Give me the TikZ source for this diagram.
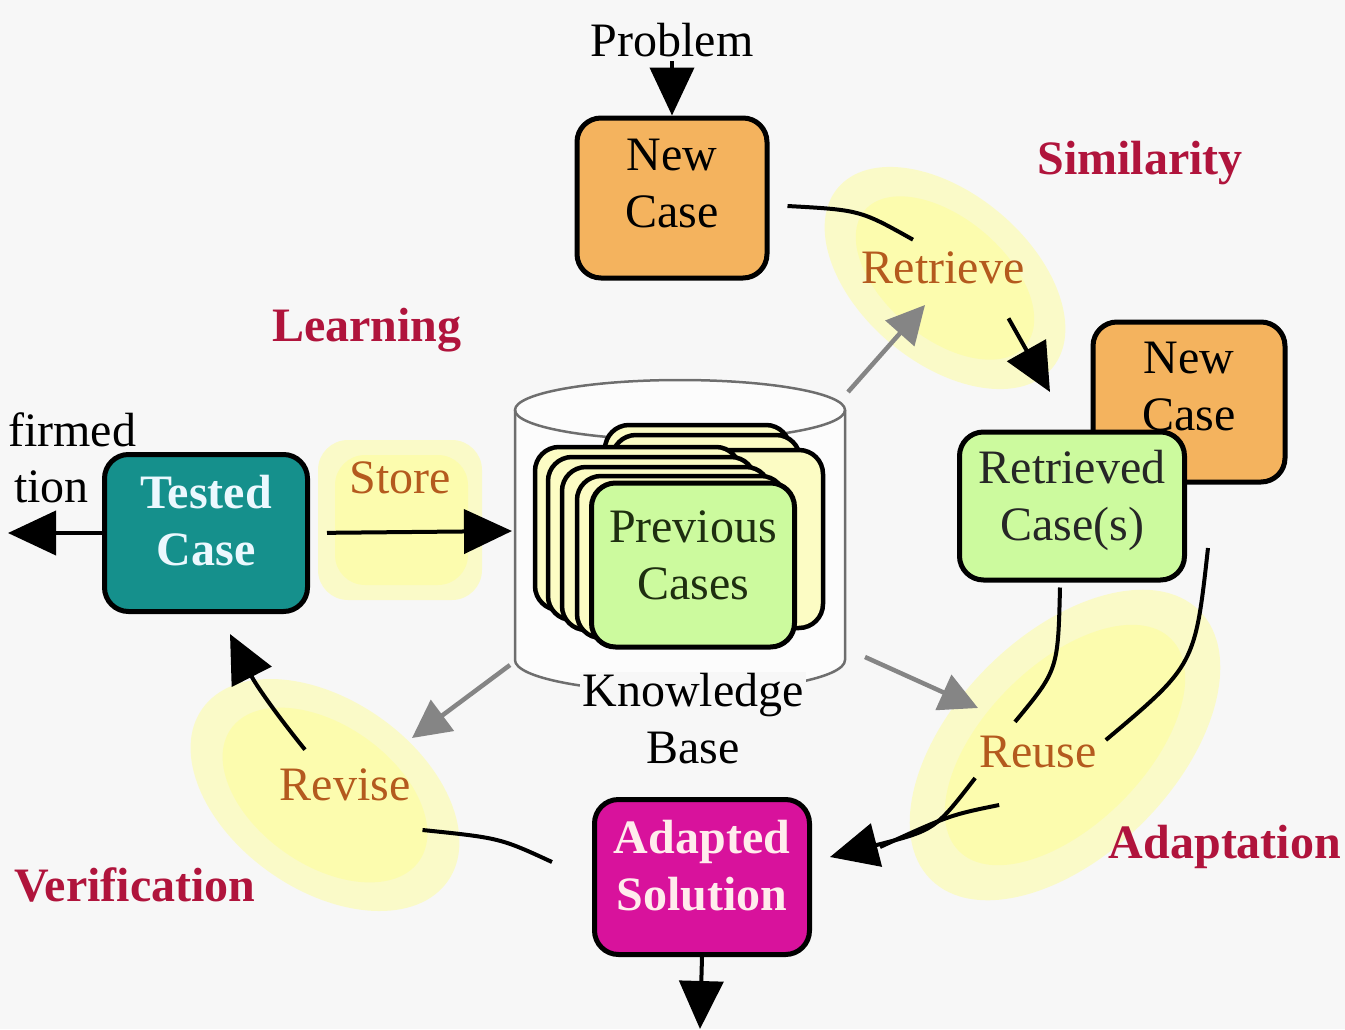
\documentclass[tikz,border=0pt]{standalone}
\usepackage{fontspec}
\setmainfont{Liberation Serif}
\usetikzlibrary{arrows.meta,shapes.geometric}
\definecolor{bgc}{HTML}{F7F7F7}
\definecolor{orangebox}{HTML}{F4B35E}
\definecolor{greenbox}{HTML}{CCFA9E}
\definecolor{palecard}{HTML}{FCFCC4}
\definecolor{tealbox}{HTML}{15908C}
\definecolor{magbox}{HTML}{D8129C}
\definecolor{lblbrown}{HTML}{B45A1E}
\definecolor{kwred}{HTML}{B0143C}
\definecolor{hlc}{HTML}{FFFF90}
\definecolor{grayarr}{HTML}{858585}
\definecolor{cylline}{HTML}{6E6E6E}
\definecolor{darkgreen}{HTML}{1E2E10}
\newcommand\dfont{\fontsize{48}{57}\selectfont}
\tikzset{
  conn/.style={line width=4pt},
  arr/.style={line width=4pt, -{Triangle[length=48pt,width=44pt]}},
  garr/.style={draw=grayarr, line width=4.5pt, -{Triangle[length=38pt,width=38pt]}},
  cbox/.style={draw=black, line width=5pt, rounded corners=24pt, inner sep=0pt},
  btext/.style={align=center, inner sep=0pt, font=\dfont},
  card/.style={draw=black, line width=4.5pt, rounded corners=24pt, fill=palecard},
  lbl/.style={font=\dfont, text=lblbrown, inner sep=4pt},
  kw/.style={font=\dfont\bfseries, text=kwred, inner sep=4pt},
  plain/.style={font=\dfont, text=black, inner sep=4pt, align=left},
  hl/.style={fill=hlc, opacity=0.45},
}
\begin{document}
\begin{tikzpicture}[x=1pt,y=-1pt]
\fill[bgc] (0,0) rectangle (1345,1029);
\useasboundingbox (0,0) rectangle (1345,1029);
% yellow highlights (two soft layers each)
\fill[hl, rotate around={-40:(945,278)}] (945,278) ellipse [x radius=140, y radius=85];
\fill[hl, rotate around={-40:(945,278)}] (945,278) ellipse [x radius=105, y radius=60];
\fill[hl, rounded corners=30pt] (318,440) rectangle (482,600);
\fill[hl, rounded corners=30pt] (335,455) rectangle (468,585);
\fill[hl, rotate around={-35:(325,795)}] (325,795) ellipse [x radius=150, y radius=95];
\fill[hl, rotate around={-35:(325,795)}] (325,795) ellipse [x radius=115, y radius=70];
\fill[hl, rotate around={45:(1065,745)}] (1065,745) ellipse [x radius=190, y radius=110];
\fill[hl, rotate around={45:(1065,745)}] (1065,745) ellipse [x radius=150, y radius=80];
% knowledge base cylinder
\fill[white!60!bgc] (515,410) -- (515,660) arc[start angle=180, end angle=0, x radius=165, y radius=32] -- (845,410) arc[start angle=0, end angle=-180, x radius=165, y radius=32] -- cycle;
\draw[cylline, line width=2.5pt] (515,410) -- (515,660) arc[start angle=180, end angle=0, x radius=165, y radius=32] -- (845,410);
\draw[cylline, line width=2.5pt] (680,410) ellipse [x radius=165, y radius=30];
% stacked cards
\draw[card] (605,425) rectangle (790,600);
\draw[card] (612,435) rectangle (800,605);
\draw[card] (640,450) rectangle (823,628);
\draw[card] (535,447) rectangle (740,610);
\draw[card] (548,457) rectangle (755,620);
\draw[card] (562,467) rectangle (770,630);
\draw[card] (577,476) rectangle (785,638);
\node[cbox, fill=greenbox, minimum width=203pt, minimum height=164pt] (pc) at (693,565) {};
\node[btext, text=darkgreen] (pct) at ([yshift=10pt]pc.center) {Previous\\Cases};
\node[plain, align=center, fill=bgc, inner sep=2pt] (kbl) at (693,719) {Knowledge\\Base};
% boxes
\node[cbox, fill=orangebox, minimum width=190pt, minimum height=160pt] (nc) at (672,198) {};
\node[btext] (nct) at ([yshift=14pt]nc.center) {New\\Case};
\node[cbox, fill=orangebox, minimum width=192pt, minimum height=160pt] (nc2) at (1189,402) {};
\node[btext] (nc2t) at ([yshift=15pt]nc2.center) {New\\Case};
\node[cbox, fill=greenbox, minimum width=225pt, minimum height=148pt] (rc) at (1072,506) {};
\node[btext, text=black!85] (rct) at ([yshift=6pt]rc.center) {Retrieved\\Case(s)};
\node[cbox, fill=tealbox, minimum width=203pt, minimum height=157pt] (tc) at (206,533) {};
\node[btext, text=cyan!8, font=\dfont\bfseries] (tct) at ([yshift=12pt]tc.center) {Tested\\Case};
\node[cbox, fill=magbox, minimum width=215pt, minimum height=155pt] (as) at (702,877) {};
\node[btext, text=pink!30, font=\dfont\bfseries] (ast) at ([yshift=11pt]as.center) {Adapted\\Solution};
% texts
\node[plain] (prob) at (672,40) {Problem};
\node[plain, anchor=west] (conf1) at (4,430) {firmed};
\node[plain, anchor=west] (conf2) at (10,487) {tion};
\node[lbl] (retr) at (943,268) {Retrieve};
\node[lbl] (store) at (400,478) {Store};
\node[lbl] (rev) at (345,785) {Revise};
\node[lbl] (reu) at (1038,752) {Reuse};
\node[kw] (sim) at (1140,163) {Similarity};
\node[kw] (learn) at (367,330) {Learning};
\node[kw] (verif) at (135,885) {Verification};
\node[kw] (adapt) at (1225,847) {Adaptation};
% coordinates
\coordinate (rtip) at (1050,392);
\coordinate (kbw) at (512,531);
\coordinate (conf) at (8,533);
\coordinate (outc) at (700,1029);
\coordinate (g1s) at (848,392);
\coordinate (g1t) at (925,305);
\coordinate (g2s) at (865,657);
\coordinate (g2t) at (978,708);
\coordinate (g3s) at (510,665);
\coordinate (g3t) at (412,738);
\coordinate (reuTail) at (880,847);
% connectors
\draw[arr] (prob) -- (nc);
\draw[conn] ([shift={(18,8)}]nc.east) .. controls (860,210) .. ([shift={(-30,-8)}]retr.north);
\draw[arr] ([shift={(-20,30)}]retr.south east) -- (rtip);
\draw[arr, shorten <=17pt] (tc.east) -- (kbw);
\draw[arr] (tc.west) -- (conf);
\draw[conn] ([shift={(-40,-15)}]as.west) .. controls (500,838) .. ([shift={(8,45)}]rev.east);
\draw[arr] ([shift={(-40,-15)}]rev.north) to[bend left=6] ([shift={(24,20)}]tc.south);
\draw[conn] ([shift={(-12,5)}]rc.south) .. controls (1058,670) .. ([shift={(-23,-10)}]reu.north);
\draw[conn] ([shift={(21,42)}]rc.east) .. controls (1195,665) .. ([shift={(5,-12)}]reu.east);
\draw[arr] ([shift={(0,26)}]reu.west) .. controls (935,830) .. ([shift={(18,-20)}]as.east);
\draw[conn] ([shift={(24,53)}]reu.west) .. controls (950,815) .. (reuTail);
\draw[arr] (as.south) -- (outc);
\draw[garr] (g1s) -- (g1t);
\draw[garr] (g2s) -- (g2t);
\draw[garr] (g3s) -- (g3t);
\end{tikzpicture}
\end{document}
